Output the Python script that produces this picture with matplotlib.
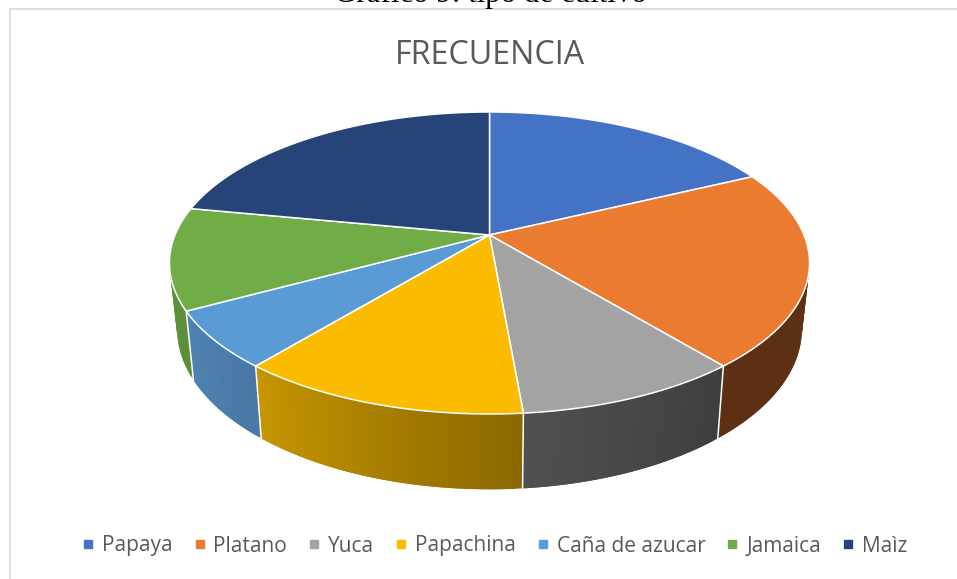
import numpy as np
import matplotlib
matplotlib.use("Agg")
import matplotlib.pyplot as plt
from matplotlib.patches import Polygon
from matplotlib.lines import Line2D

categories = ["Papaya", "Platano", "Yuca", "Papachina", "Caña de azucar", "Jamaica", "Maìz"]
values = [17.9, 21.1, 9.6, 12.4, 6.1, 10.9, 22]
title = "FRECUENCIA"
caption = "Gráfico 9: tipo de cultivo"

top_colors = ["#4472C4", "#EB7B30", "#A3A3A3", "#FBBC00", "#5B9BD5", "#70AD47", "#264478"]
side_left = ["#3A6099", "#5E3013", "#505050", "#C89600", "#4E83B2", "#5C9038", "#1A2F54"]
side_right = ["#3A6099", "#5E3013", "#3E3E3E", "#8A6800", "#4878A5", "#5C9038", "#1A2F54"]

W, H = 957, 579
fig = plt.figure(figsize=(W / 100, H / 100), dpi=100)
ax = fig.add_axes([0, 0, 1, 1])
ax.set_xlim(0, W)
ax.set_ylim(H, 0)
ax.axis("off")

CX, K = 489.5, 0.1854
TOP = dict(cy=235, a=314.5, b=145.8)
BOT = dict(cy=299, a=307, b=155)


def project(theta, plane):
    u, v = np.sin(theta), np.cos(theta)
    w = 1 + K * v
    return CX + plane["a"] * u / w, plane["cy"] - plane["b"] * v / w


def mix(c1, c2, t):
    a = np.array(matplotlib.colors.to_rgb(c1))
    b = np.array(matplotlib.colors.to_rgb(c2))
    return tuple(a + (b - a) * t)


edges = np.radians(np.concatenate([[0], np.cumsum(values)]) * 360 / sum(values))

# side wall: the angle grows from right to left along the front of the pie.
# Each strip runs on under the next one so that no seams show.
for i in range(len(values)):
    t0, t1 = edges[i], edges[i + 1]
    n = max(int(np.degrees(t1 - t0) / 1.0), 2)
    th = np.linspace(t0, t1, n + 1)
    for j in range(n):
        s = np.linspace(th[j], th[min(j + 2, n)], 5)
        xt, yt = project(s, TOP)
        xb, yb = project(s[::-1], BOT)
        c = mix(side_left[i], side_right[i], 1 - (j + .5) / n)
        ax.add_patch(Polygon(np.column_stack([np.r_[xt, xb], np.r_[yt, yb]]),
                             closed=True, fc=c, ec="none", zorder=2))
# white joints on the wall
for t in edges[:-1]:
    if np.cos(t) < 0.15:
        xa, ya = project(t, TOP)
        xb, yb = project(t, BOT)
        ax.plot([xa, xb], [ya, yb], color="white", lw=1.1, zorder=3)

# top face
for i in range(len(values)):
    s = np.linspace(edges[i], edges[i + 1], 80)
    x, y = project(s, TOP)
    ax.add_patch(Polygon(np.column_stack([np.r_[CX, x], np.r_[TOP["cy"], y]]), closed=True,
                         fc=top_colors[i], ec="white", lw=1.1, joinstyle="round", zorder=4))

# chart frame
ax.plot([W, 9.5, 9.5], [9, 9, H], color="#DEDEDE", lw=1.4, zorder=1)

ax.text(490, 55.5, title, ha="center", va="center", fontsize=23.2, color="#595959", family="Open Sans")
ax.text(490, 2, caption, ha="center", va="baseline", fontsize=22.3, color="black",
        family="Liberation Serif", zorder=5)

handles = [Line2D([], [], ls="", marker="s", ms=5.2, mfc=c, mec=c) for c in top_colors]
leg = ax.legend(handles, categories, loc="center", bbox_to_anchor=(492.5 / W, 1 - 546 / H), ncols=7,
                frameon=False, handletextpad=0.16, columnspacing=0.8, handlelength=1.0,
                prop=dict(family="Open Sans", size=15))
for t in leg.get_texts():
    t.set_color("#595959")

fig.savefig("out.png", dpi=100)
